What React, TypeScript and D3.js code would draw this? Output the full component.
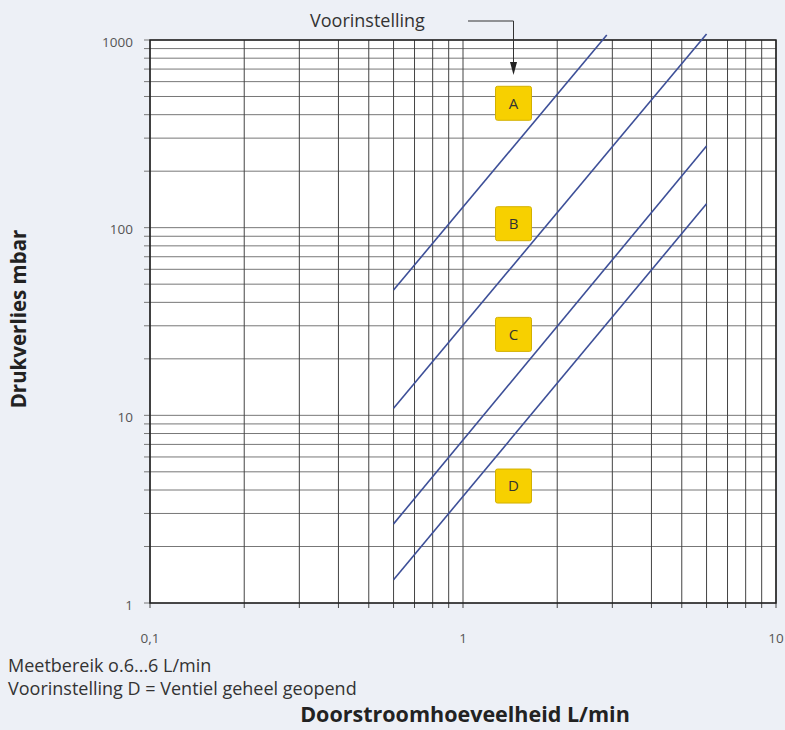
import * as d3 from "d3";

const settings = ["A", "B", "C", "D"];
// flow (L/min) and pressure loss (mbar), per setting
const flowA = [0.6, 2.88];
const lossA = [46.5, 1062];
const flowB = [0.6, 6];
const lossB = [10.9, 1075];
const flowC = [0.6, 6];
const lossC = [2.64, 272];
const flowD = [0.6, 6];
const lossD = [1.33, 134];
const labelFlow = 1.45;
const labelLoss = [460, 105, 27, 4.2];
const xTickLabels = ["0,1", "1", "10"];
const xTickValues = [0.1, 1, 10];
const yTickValues = [1, 10, 100, 1000];

const W = 785;
const H = 730;
const font = "'Open Sans', 'DejaVu Sans', sans-serif";

export default function App() {
  const x = d3.scaleLog().domain([0.1, 10]).range([150, 776]);
  const y = d3.scaleLog().domain([1, 1000]).range([603, 40]);

  const line = d3
    .line<[number, number]>()
    .x((d) => x(d[0]))
    .y((d) => y(d[1]));

  const flows = [flowA, flowB, flowC, flowD];
  const losses = [lossA, lossB, lossC, lossD];
  const curves = flows.map((f, i) => f.map((q, j) => [q, losses[i][j]] as [number, number]));

  const xGrid = x.ticks();
  const yGrid = y.ticks();
  const ax = x(labelFlow);

  return (
    <svg width={W} height={H} style={{ position: "absolute", left: 0, top: 0 }}>
      <rect width={W} height={H} fill="#edf0f6" />
      <rect x={150} y={40} width={626} height={563} fill="#ffffff" />

      {yGrid.map((v, i) => (
        <line key={"h" + i} x1={144} x2={776} y1={y(v)} y2={y(v)} stroke="#777" strokeWidth={1} />
      ))}
      {xGrid.map((v, i) => (
        <line key={"v" + i} x1={x(v)} x2={x(v)} y1={40} y2={608} stroke="#444" strokeWidth={1} />
      ))}
      <rect x={150} y={40} width={626} height={563} fill="none" stroke="#222" strokeWidth={1.5} />

      {curves.map((c, i) => (
        <path key={"c" + i} d={line(c) || ""} fill="none" stroke="#3d4f98" strokeWidth={1.6} />
      ))}

      {settings.map((s, i) => (
        <g key={"l" + s} transform={`translate(${ax},${y(labelLoss[i])})`}>
          <rect x={-18} y={-17} width={36} height={34} rx={2} fill="#f7d000" stroke="#d3b000" strokeWidth={1} />
          <text textAnchor="middle" dy="0.36em" fontFamily={font} fontSize={15} fill="#333">
            {s}
          </text>
        </g>
      ))}

      {yTickValues.map((v) => (
        <text key={"yt" + v} x={133} y={y(v) + 2} dy="0.35em" textAnchor="end" fontFamily={font} fontSize={13.5} fill="#555">
          {v}
        </text>
      ))}
      {xTickValues.map((v, i) => (
        <text key={"xt" + v} x={x(v)} y={638} dy="0.35em" textAnchor="middle" fontFamily={font} fontSize={13.5} fill="#555">
          {xTickLabels[i]}
        </text>
      ))}

      <text x={310} y={27} fontFamily={font} fontSize={18} fill="#333">
        Voorinstelling
      </text>
      <path d={`M468,21H${ax}V64`} fill="none" stroke="#333" strokeWidth={1} />
      <path d={`M${ax - 3.5},62L${ax + 3.5},62L${ax},75Z`} fill="#222" />

      <text
        transform="translate(26,319) rotate(-90)"
        textAnchor="middle"
        fontFamily={font}
        fontSize={20.5}
        fontWeight="bold"
        fill="#222"
      >
        Drukverlies mbar
      </text>
      <text x={8} y={672} fontFamily={font} fontSize={18} fill="#333">
        Meetbereik o.6...6 L/min
      </text>
      <text x={8} y={695} fontFamily={font} fontSize={18} fill="#333">
        Voorinstelling D = Ventiel geheel geopend
      </text>
      <text x={465} y={722} textAnchor="middle" fontFamily={font} fontSize={21.5} fontWeight="bold" fill="#222">
        Doorstroomhoeveelheid L/min
      </text>
    </svg>
  );
}
